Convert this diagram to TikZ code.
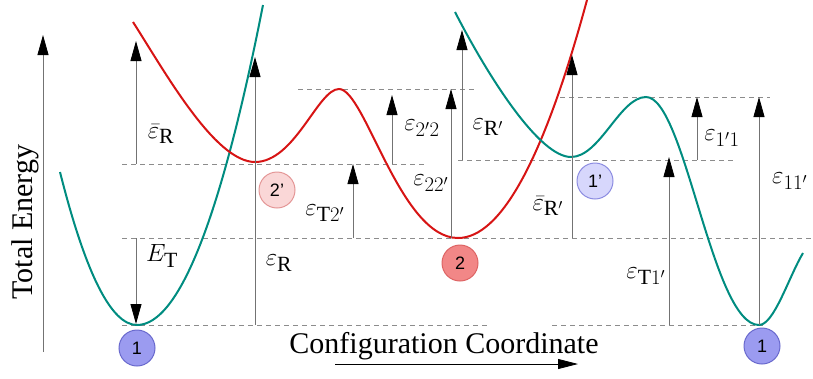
\documentclass[tikz,border=0pt]{standalone}
\usepackage{fontspec}
\setmainfont{Liberation Serif}
\setsansfont{Liberation Sans}
\usetikzlibrary{arrows.meta}
\definecolor{tealc}{RGB}{0,140,128}
\definecolor{redc}{RGB}{215,20,20}
\definecolor{dashc}{RGB}{140,140,140}
\definecolor{linec}{RGB}{115,115,115}
\definecolor{bluef}{RGB}{155,155,240}
\definecolor{blued}{RGB}{105,105,205}
\definecolor{lbluef}{RGB}{215,215,252}
\definecolor{lblued}{RGB}{140,140,225}
\definecolor{redf}{RGB}{242,135,135}
\definecolor{redd}{RGB}{222,100,100}
\definecolor{lredf}{RGB}{250,215,215}
\definecolor{lredd}{RGB}{228,150,150}
\begin{document}
\begin{tikzpicture}[x=1pt,y=-1pt,
  lvl/.style={draw=dashc,line width=0.9pt,dash pattern=on 5pt off 4pt},
  earrow/.style={draw=linec,line width=0.8pt,-{Triangle[length=20pt,width=11pt,color=black]}},
  carrow/.style={draw=black,line width=0.8pt,-{Triangle[length=20pt,width=10pt,color=black]}},
  curveT/.style={draw=tealc,line width=2pt},
  curveR/.style={draw=redc,line width=2pt},
  lab/.style={font=\fontsize{31}{33}\selectfont,inner sep=0pt},
  ttl/.style={font=\fontsize{30}{32}\selectfont,inner sep=0pt},
  st/.style={circle,minimum size=36pt,inner sep=0pt,line width=1pt,font=\sffamily\fontsize{18}{18}\selectfont}]
\useasboundingbox (0,0) rectangle (813,378);
% level coordinates
\coordinate (l1a) at (122,325); \coordinate (l1b) at (490,325);
\coordinate (l1c) at (552,325); \coordinate (l1d) at (763,325);
\coordinate (l2a) at (122,238); \coordinate (l2b) at (813,238);
\coordinate (l3a) at (122,164); \coordinate (l3b) at (427,164);
\coordinate (l4a) at (458,160); \coordinate (l4b) at (733,160);
\coordinate (l5a) at (298,89);  \coordinate (l5b) at (477,89);
\coordinate (l6a) at (560,97);  \coordinate (l6b) at (770,97);
\draw[lvl] (l1a) -- (l1b);
\draw[lvl] (l1c) -- (l1d);
\draw[lvl] (l2a) -- (l2b);
\draw[lvl] (l3a) -- (l3b);
\draw[lvl] (l4a) -- (l4b);
\draw[lvl] (l5a) -- (l5b);
\draw[lvl] (l6a) -- (l6b);
% curves
\draw[curveT] (60,172) .. controls (85.7,274) and (111.3,325) .. (137,325)
  .. controls (179,325) and (221,218.3) .. (263,5);
\draw[curveR] (133,22) .. controls (165,72) and (215,162) .. (255,162)
  .. controls (295,162) and (318,89) .. (339,89)
  .. controls (365,89) and (400,238) .. (458,238)
  .. controls (501,238) and (544,158.7) .. (587,0);
\draw[curveT] (455,12) .. controls (490,80) and (540,157) .. (571,157)
  .. controls (600,157) and (620,97) .. (646,97)
  .. controls (685,97) and (712,325) .. (759,325)
  .. controls (774,325) and (788.7,277) .. (803,253);
% arrow coordinates
\coordinate (ax0) at (43,352); \coordinate (ax1) at (43,35);
\coordinate (ebR0) at (136,164); \coordinate (ebR1) at (136,41);
\coordinate (ET0) at (136,238); \coordinate (ET1) at (136,324);
\coordinate (eR0) at (255,325); \coordinate (eR1) at (255,57);
\coordinate (eT20) at (353,238); \coordinate (eT21) at (353,164);
\coordinate (e2p20) at (392,164); \coordinate (e2p21) at (392,95);
\coordinate (e220) at (451,238); \coordinate (e221) at (451,89);
\coordinate (eRp0) at (462,160); \coordinate (eRp1) at (462,30);
\coordinate (ebRp0) at (572,238); \coordinate (ebRp1) at (572,55);
\coordinate (eT10) at (669,325); \coordinate (eT11) at (669,157);
\coordinate (e1p10) at (697,160); \coordinate (e1p11) at (697,97);
\coordinate (e110) at (759,325); \coordinate (e111) at (759,97);
\coordinate (cc0) at (335,364); \coordinate (cc1) at (578,364);
\draw[earrow] (ax0) -- (ax1);
\draw[earrow] (ebR0) -- (ebR1);
\draw[earrow] (ET0) -- (ET1);
\draw[earrow] (eR0) -- (eR1);
\draw[earrow] (eT20) -- (eT21);
\draw[earrow] (e2p20) -- (e2p21);
\draw[earrow] (e220) -- (e221);
\draw[earrow] (eRp0) -- (eRp1);
\draw[earrow] (ebRp0) -- (ebRp1);
\draw[earrow] (eT10) -- (eT11);
\draw[earrow] (e1p10) -- (e1p11);
\draw[earrow] (e110) -- (e111);
\draw[carrow] (cc0) -- (cc1);
% labels
\node[ttl,rotate=90] (te) at (25,222) {Total Energy};
\node[ttl] (cc) at (444,346) {Configuration Coordinate};
\node[lab] (LbR) at (161,134) {$\bar{\varepsilon}_{\mathrm{R}}$};
\node[lab] (LET) at (162,256) {$E_{\mathrm{T}}$};
\node[lab] (LeR) at (279,263) {$\varepsilon_{\mathrm{R}}$};
\node[lab] (LT2) at (325,213) {$\varepsilon_{\mathrm{T}2'}$};
\node[lab] (L2p2) at (422,128) {$\varepsilon_{2'2}$};
\node[lab] (L22p) at (431,183) {$\varepsilon_{22'}$};
\node[lab] (LRp) at (488,127) {$\varepsilon_{\mathrm{R}'}$};
\node[lab] (LbRp) at (548,206) {$\bar{\varepsilon}_{\mathrm{R}'}$};
\node[lab] (L1p1) at (722,138) {$\varepsilon_{1'1}$};
\node[lab,anchor=west] (L11p) at (772,181) {$\varepsilon_{11'}$};
\node[lab] (LT1) at (646,276) {$\varepsilon_{\mathrm{T}1'}$};
% states
\node[st,fill=bluef,draw=blued] (s1a) at (137,348) {1};
\node[st,fill=lredf,draw=lredd] (s2p) at (277,190) {2’};
\node[st,fill=redf,draw=redd] (s2) at (460,263) {2};
\node[st,fill=lbluef,draw=lblued] (s1p) at (595,181) {1’};
\node[st,fill=bluef,draw=blued] (s1b) at (762,346) {1};
\end{tikzpicture}
\end{document}
